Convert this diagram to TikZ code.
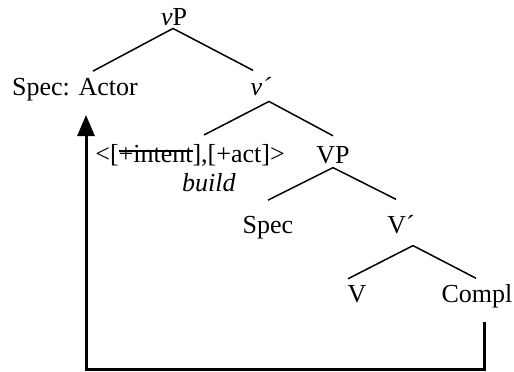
\documentclass[tikz,border=0pt]{standalone}
\usepackage{fontspec}
\setmainfont{Liberation Serif}
\usetikzlibrary{arrows.meta}
\newcommand{\strikeit}[1]{\setbox0\hbox{#1}\rlap{\rule[10pt]{\wd0}{1.6pt}}\box0}

\begin{document}
\begin{tikzpicture}[x=1pt, y=-1pt,
    every node/.style={inner sep=0pt, anchor=base, font=\fontsize{26}{30}\selectfont},
    branch/.style={line width=1.5pt},
    movearrow/.style={line width=3pt, -{Triangle[length=21pt, width=17pt]}}]
    \useasboundingbox (0,0) rectangle (514,372);
    \node (vp) at (174,25) {\textit{v}P};
    \node (spec1) at (75,95) {Spec: Actor};
    \node (vbar) at (261,95) {\textit{v´}};
    \node (feat) at (190,162) {<[\strikeit{+intent}],[+act]>};
    \node (verb) at (209,191) {\textit{build}};
    \node (vpp) at (333,163) {VP};
    \node (spec2) at (268,233) {Spec};
    \node (vbar2) at (401,233) {V´};
    \node (vv) at (357,302) {V};
    \node (compl) at (477,302) {Compl};
    % branches
    \draw[branch]([xshift=-1pt,yshift=-3pt]vp.south)--([xshift=18pt,yshift=6.5pt]spec1.north);
    \draw[branch]([xshift=-1pt,yshift=-3pt]vp.south)--([xshift=-8pt,yshift=6.4pt]vbar.north);
    \draw[branch]([xshift=8pt,yshift=-6pt]vbar.south)--([xshift=14pt,yshift=8.8pt]feat.north);
    \draw[branch]([xshift=8pt,yshift=-6pt]vbar.south)--([yshift=10pt]vpp.north);
    \draw[branch]([yshift=-4pt]vpp.south)--([yshift=15.5pt]spec2.north);
    \draw[branch]([yshift=-4pt]vpp.south)--([xshift=-5pt,yshift=15.4pt]vbar2.north);
    \draw[branch]([xshift=12pt,yshift=-12pt]vbar2.south)--([xshift=-9pt,yshift=6pt]vv.north);
    \draw[branch]([xshift=12pt,yshift=-12pt]vbar2.south)--([xshift=-1pt,yshift=5.5pt]compl.north);
    % movement
    \draw[movearrow]([xshift=7pt,yshift=-14.3pt]compl.south)--++(0,47.5)-|([xshift=11pt,yshift=-14.3pt]spec1.south);
\end{tikzpicture}
\end{document}
